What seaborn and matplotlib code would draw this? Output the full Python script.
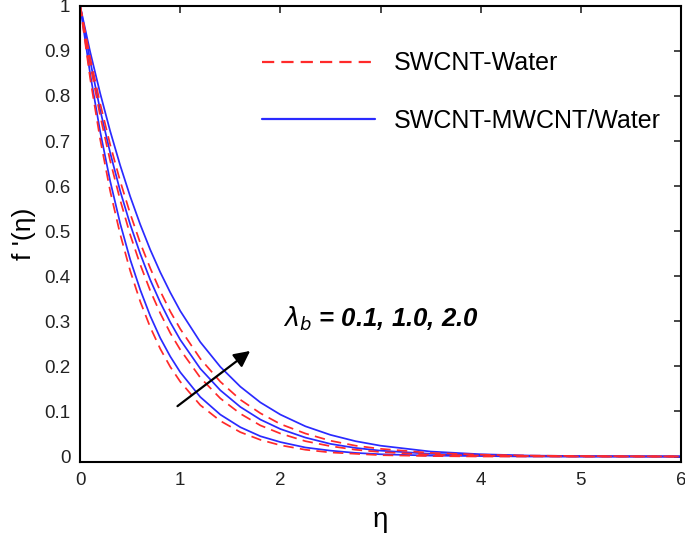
import numpy as np
import pandas as pd
import seaborn as sns
import matplotlib.pyplot as plt
from matplotlib.lines import Line2D

# values
eta = [0, 0.1, 0.2, 0.3, 0.4, 0.5, 0.6, 0.7, 0.8, 0.9, 1.0, 1.2, 1.4, 1.6, 1.8, 2.0,
       2.25, 2.5, 2.75, 3.0, 3.5, 4.0, 4.5, 5.0, 6.0]

sw_01 = [1.0, 0.839, 0.704, 0.589, 0.493, 0.412, 0.344, 0.287, 0.239, 0.199, 0.166, 0.114,
         0.079, 0.054, 0.037, 0.025, 0.015, 0.009, 0.006, 0.003, 0.001, 0.0, 0.0, 0.0, 0.0]
sw_10 = [1.0, 0.870, 0.756, 0.656, 0.569, 0.492, 0.426, 0.368, 0.318, 0.274, 0.237, 0.175,
         0.129, 0.095, 0.069, 0.051, 0.034, 0.023, 0.015, 0.010, 0.004, 0.002, 0.001, 0.0, 0.0]
sw_20 = [1.0, 0.885, 0.783, 0.692, 0.611, 0.539, 0.474, 0.418, 0.367, 0.322, 0.283, 0.217,
         0.166, 0.126, 0.096, 0.072, 0.051, 0.035, 0.024, 0.017, 0.008, 0.004, 0.002, 0.001, 0.0]
hy_01 = [1.0, 0.849, 0.721, 0.611, 0.517, 0.437, 0.370, 0.312, 0.263, 0.222, 0.187, 0.132,
         0.093, 0.065, 0.045, 0.032, 0.020, 0.013, 0.008, 0.005, 0.002, 0.001, 0.0, 0.0, 0.0]
hy_10 = [1.0, 0.878, 0.769, 0.674, 0.589, 0.515, 0.450, 0.392, 0.342, 0.298, 0.259, 0.195,
         0.147, 0.110, 0.082, 0.061, 0.042, 0.028, 0.019, 0.013, 0.006, 0.003, 0.001, 0.0, 0.0]
hy_20 = [1.0, 0.898, 0.806, 0.722, 0.646, 0.577, 0.515, 0.459, 0.409, 0.364, 0.323, 0.254,
         0.199, 0.155, 0.120, 0.093, 0.067, 0.048, 0.034, 0.024, 0.011, 0.005, 0.002, 0.001, 0.0]

lambdas = ['0.1', '1.0', '2.0']
fluids = ['SWCNT-Water', 'SWCNT-MWCNT/Water']
series = {('SWCNT-Water', '0.1'): sw_01, ('SWCNT-Water', '1.0'): sw_10,
          ('SWCNT-Water', '2.0'): sw_20, ('SWCNT-MWCNT/Water', '0.1'): hy_01,
          ('SWCNT-MWCNT/Water', '1.0'): hy_10, ('SWCNT-MWCNT/Water', '2.0'): hy_20}

rows = []
for (fl, lam), vals in series.items():
    for x, y in zip(eta, vals):
        rows.append({'eta': x, 'f': y, 'fluid': fl, 'lam': lam})
df = pd.DataFrame(rows)

sns.set_style('white')
plt.rcParams['font.family'] = ['Liberation Sans', 'DejaVu Sans']
plt.rcParams['mathtext.fontset'] = 'dejavusans'
plt.rcParams['text.color'] = 'black'
plt.rcParams['axes.labelcolor'] = 'black'

fig = plt.figure(figsize=(6.85, 5.34), dpi=100)
ax = fig.add_axes([0.117, 0.135, 0.877, 0.854])

colors = {'SWCNT-Water': '#ff2a2a', 'SWCNT-MWCNT/Water': '#2a2aff'}
dashes = {'SWCNT-Water': (6, 3.6), 'SWCNT-MWCNT/Water': ''}
sns.lineplot(data=df, x='eta', y='f', hue='fluid', style='fluid', units='lam',
             estimator=None, palette=colors, dashes=dashes, hue_order=fluids[::-1],
             linewidth=1.25, legend=False, ax=ax, sort=False)

ax.set_xlim(0, 6)
ax.set_ylim(-0.012, 1.0)
ax.set_xticks(range(7))
ax.set_xticklabels([str(i) for i in range(7)])
yt = np.round(np.arange(0, 1.01, 0.1), 1)
ax.set_yticks(yt)
ax.set_yticklabels(['0'] + ['%.1f' % v for v in yt[1:-1]] + ['1'])
ax.tick_params(direction='in', length=5, width=1.2, top=True, right=True,
               labelsize=13.5, labelcolor='#222222', pad=7)
for s in ax.spines.values():
    s.set_color('black')
    s.set_linewidth(1.5)

ax.set_xlabel('η', fontsize=20, labelpad=13)
ax.set_ylabel("f '(η)", fontsize=19, labelpad=6)

handles = [Line2D([], [], color=colors['SWCNT-Water'], lw=1.6, dashes=(5.5, 3.2)),
           Line2D([], [], color=colors['SWCNT-MWCNT/Water'], lw=1.6)]
leg = ax.legend(handles, fluids, loc='upper left', bbox_to_anchor=(0.303, 0.9),
                frameon=False, fontsize=18, handlelength=4.5, handletextpad=0.75,
                labelspacing=1.35, borderpad=0, borderaxespad=0, labelcolor='black')

ax.text(2.03, 0.305, r'$\lambda_b$ = 0.1, 1.0, 2.0', fontsize=18.5, fontweight='bold',
        style='italic', va='center', ha='left', color='black')
ax.annotate('', xy=(1.72, 0.238), xytext=(0.95, 0.108),
            arrowprops=dict(arrowstyle='-|>', color='black', lw=1.6, mutation_scale=24))

fig.savefig('out.png', dpi=100)
